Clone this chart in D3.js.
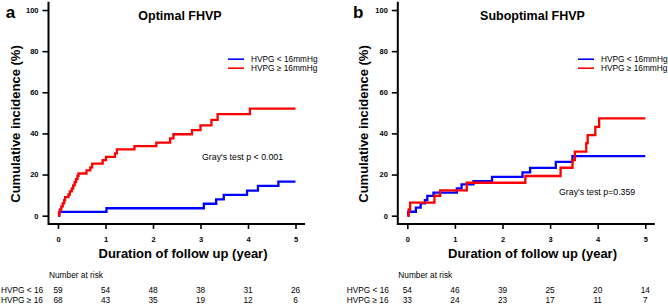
<!DOCTYPE html>
<html><head><meta charset="utf-8">
<script src="https://cdn.jsdelivr.net/npm/d3@7"></script>
<style>
body{margin:0;background:#fff}
svg{display:block}
text{font-family:"Liberation Sans",Arial,Helvetica,sans-serif;fill:#000}
</style>
</head><body>
<svg id="chart" width="668" height="304"></svg>
<script>
// ---------- data ----------
const yearTicks = [0, 1, 2, 3, 4, 5];
const pctTicks = [0, 20, 40, 60, 80, 100];
const seriesNames = ["HVPG < 16mmHg", "HVPG \u2265 16mmHg"];
const riskRowLabels = ["HVPG < 16", "HVPG \u2265 16"];
const panelTitles = ["Optimal FHVP", "Suboptimal FHVP"];
const panelLetters = ["a", "b"];
const grayTests = ["Gray's test p < 0.001", "Gray's test p=0.359"];

// Panel a: Optimal FHVP
const optLowTime = [0, 0.03, 1.02, 3.07, 3.33, 3.49, 3.98, 4.21, 4.64, 5];
const optLowCif  = [0, 1.8, 3.6, 5.8, 7.9, 10.1, 12.2, 14.5, 16.6, 16.6];
const optHighTime = [0, 0.02, 0.04, 0.07, 0.10, 0.13, 0.15, 0.22, 0.25, 0.29, 0.32, 0.35, 0.38, 0.41, 0.43, 0.60, 0.68, 0.72, 0.94, 1.01, 1.20, 1.24, 1.61, 2.07, 2.36, 2.43, 2.82, 3.00, 3.23, 3.36, 4.04, 5];
const optHighCif  = [0, 1.5, 3.0, 4.5, 6.0, 7.5, 9.0, 10.3, 11.8, 13.2, 14.7, 16.3, 17.8, 19.3, 20.5, 22.0, 23.5, 25.3, 27.0, 28.6, 30.3, 32.2, 33.8, 35.5, 37.6, 39.6, 41.6, 43.9, 46.6, 49.4, 52.1, 52.1];
const optRiskLow  = [59, 54, 48, 38, 31, 26];
const optRiskHigh = [68, 43, 35, 19, 12, 6];

// Panel b: Suboptimal FHVP
const subLowTime = [0, 0.02, 0.18, 0.28, 0.37, 0.42, 0.55, 1.04, 1.14, 1.39, 1.78, 2.42, 2.58, 3.12, 3.47, 5];
const subLowCif  = [0, 1.9, 3.9, 6.0, 7.6, 9.6, 11.2, 13.3, 15.2, 16.8, 18.9, 21.1, 23.2, 26.2, 29.0, 29.0];
const subHighTime = [0, 0.03, 0.06, 0.57, 0.69, 1.25, 2.48, 3.22, 3.47, 3.52, 3.76, 3.79, 3.95, 4.03, 5];
const subHighCif  = [0, 3.0, 6.3, 9.7, 12.3, 16.0, 19.3, 23.3, 27.0, 31.1, 35.3, 39.2, 43.2, 47.3, 47.3];
const subRiskLow  = [54, 46, 39, 25, 20, 14];
const subRiskHigh = [33, 24, 23, 17, 11, 7];

// ---------- drawing ----------
const svg = d3.select("#chart");
const colors = ["#0000ff", "#ff0000"];

const panels = [
  {left: 48.5, right: 305, letterX: 10.5, titleX: 180, yTitleX: 15, xTitleX: 183,
   legendX: 228, grayX: 202, grayY: 157, riskLabelX: 1,
   low: [optLowTime, optLowCif], high: [optHighTime, optHighCif], risk: [optRiskLow, optRiskHigh]},
  {left: 397.8, right: 654.8, letterX: 358.3, titleX: 532.5, yTitleX: 363, xTitleX: 532.5,
   legendX: 578, grayX: 559, grayY: 191.7, riskLabelX: 346.7,
   low: [subLowTime, subLowCif], high: [subHighTime, subHighCif], risk: [subRiskLow, subRiskHigh]}
];

const plotTop = 1.8, plotBottom = 223.9;

panels.forEach((p, i) => {
  const g = svg.append("g");
  const x = d3.scaleLinear().domain([-0.2, 5.2]).range([p.left, p.right]);
  const y = d3.scaleLinear().domain([-4, 104]).range([plotBottom, plotTop]);

  // y axis
  const yAxis = d3.axisLeft(y).tickValues(pctTicks).tickFormat(d3.format("d"))
    .tickSize(6).tickPadding(4).tickSizeOuter(0);
  const ya = g.append("g").attr("transform", `translate(${p.left},0)`).call(yAxis);
  ya.select(".domain").remove();
  ya.selectAll(".tick line").attr("stroke", "#000").attr("stroke-width", 1.6);
  ya.selectAll(".tick text").style("font-size", "7.5px").style("font-weight", "bold")
    .attr("font-family", "Liberation Sans, Arial, sans-serif");

  // x axis
  const xAxis = d3.axisBottom(x).tickValues(yearTicks).tickFormat(d3.format("d"))
    .tickSize(5).tickPadding(8).tickSizeOuter(0);
  const xa = g.append("g").attr("transform", `translate(0,${plotBottom})`).call(xAxis);
  xa.select(".domain").remove();
  xa.selectAll(".tick line").attr("stroke", "#000").attr("stroke-width", 1.6);
  xa.selectAll(".tick text").style("font-size", "7.5px").style("font-weight", "bold")
    .attr("font-family", "Liberation Sans, Arial, sans-serif");

  // L-shaped box
  g.append("path")
    .attr("d", `M${p.left},${plotTop}V${plotBottom}H${p.right}`)
    .attr("fill", "none").attr("stroke", "#000").attr("stroke-width", 2);

  // curves
  const line = d3.line().x(d => x(d[0])).y(d => y(d[1])).curve(d3.curveStepAfter);
  [p.low, p.high].forEach((s, k) => {
    const pts = s[0].map((t, j) => [t, s[1][j]]);
    g.append("path").datum(pts).attr("d", line)
      .attr("fill", "none").attr("stroke", colors[k]).attr("stroke-width", 2.3)
      .attr("stroke-linejoin", "miter");
  });

  // panel letter
  g.append("text").attr("x", p.letterX).attr("y", 17.5).attr("text-anchor", "middle")
    .style("font-size", "17px").style("font-weight", "bold").text(panelLetters[i]);
  // title
  g.append("text").attr("x", p.titleX).attr("y", 20.3).attr("text-anchor", "middle")
    .style("font-size", "12.5px").style("font-weight", "bold").text(panelTitles[i]);
  // y title
  g.append("text").attr("transform", `translate(${p.yTitleX + 4.5},124) rotate(-90)`)
    .attr("text-anchor", "middle")
    .style("font-size", "13px").style("font-weight", "bold").text("Cumulative incidence (%)");
  // x title
  g.append("text").attr("x", p.xTitleX).attr("y", 257.6).attr("text-anchor", "middle")
    .style("font-size", "13px").style("font-weight", "bold").text("Duration of follow up (year)");

  // legend
  seriesNames.forEach((nm, k) => {
    const ly = 59.2 + k * 9;
    g.append("line").attr("x1", p.legendX).attr("x2", p.legendX + 16)
      .attr("y1", ly).attr("y2", ly).attr("stroke", colors[k]).attr("stroke-width", 1.6);
    g.append("text").attr("x", p.legendX + 23).attr("y", ly + 3)
      .style("font-size", "8.3px").text(nm);
  });

  // Gray's test
  g.append("text").attr("x", p.grayX).attr("y", p.grayY + 3.1)
    .style("font-size", "8.8px").text(grayTests[i]);

  // Number at risk
  g.append("text").attr("x", p.left + 0.5).attr("y", 278.3)
    .style("font-size", "8.3px").text("Number at risk");
  [0, 1].forEach(k => {
    const ry = 293 + k * 9.7;
    g.append("text").attr("x", p.riskLabelX).attr("y", ry)
      .style("font-size", "8.3px").text(riskRowLabels[k]);
    g.selectAll(null).data(p.risk[k]).enter().append("text")
      .attr("x", (d, j) => x(yearTicks[j])).attr("y", ry)
      .attr("text-anchor", "middle").style("font-size", "8.3px").text(d => d);
  });
});
</script>
</body></html>
